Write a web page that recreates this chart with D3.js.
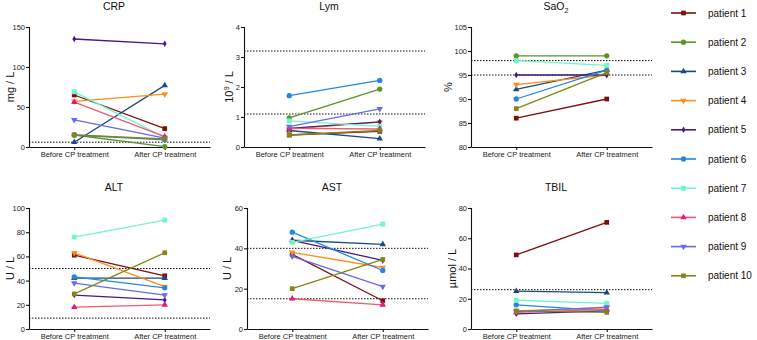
<!DOCTYPE html>
<html>
<head>
<meta charset="utf-8">
<script src="https://cdn.jsdelivr.net/npm/d3@7"></script>
<style>
  body { margin: 0; background: #fff; }
  svg { font-family: "Liberation Sans", Arial, sans-serif; }
  .tick text { fill: #222; }
</style>
</head>
<body>
<div id="chart"></div>
<script>
const patients = ['patient 1', 'patient 2', 'patient 3', 'patient 4', 'patient 5',
                  'patient 6', 'patient 7', 'patient 8', 'patient 9', 'patient 10'];
const phases = ['Before CP treatment', 'After CP treatment'];

// [before, after] per patient, null = not shown
const crp  = [[65, 23], [15, 0.5], [6, 77], [57, 66], [135, 129], [15, 9], [69, 12], [56, 13], [34, 11], [15, 10]];
const lym  = [[0.40, 0.52], [0.97, 1.93], [0.55, 0.28], [0.60, 0.83], [0.62, 0.84], [1.71, 2.22], [0.87, 0.69], [0.62, 0.60], [0.68, 1.27], [0.40, 0.55]];
const sao2 = [[86, 90], [99, 99], [92, 96], [93, 95], [95, 95], [90, 96], [98, 97], null, null, [88, 95.5]];
const alt  = [[61, 44], null, [42, 42], [63, 35], [28, 24], [43, 34], [76, 90], [18, 20], [38, 28], [29, 63]];
const ast  = [[37, 14], null, [44, 42], [38, 30.5], [44, 34], [48, 29], [43, 52], [15, 12], [36, 21], [20, 34.5]];
const tbil = [[49, 70.5], null, [25, 24], [12, 14], [10, 12], [16, 12], [19, 17], [11, 13], [11.5, 14.5], [12, 11]];

const crpRef = [6], lymRef = [1.1, 3.2], sao2Ref = [95, 98], altRef = [9, 50], astRef = [15, 40], tbilRef = [26];

const colors = ['#7c1010', '#5b9428', '#1d4a7c', '#ff8c1a', '#461a86',
                '#2387e2', '#72f5c8', '#f05a78', '#6a6ae6', '#858517'];
const markerColors = ['#7c1010', '#5b9428', '#1d4a7c', '#ff8c1a', '#461a86',
                '#2387e2', '#72f5c8', '#e8157e', '#6a6ae6', '#858517'];
const shapes = [d3.symbolSquare, d3.symbolCircle, d3.symbolTriangle, d3.symbolTriangle, d3.symbolDiamond,
                d3.symbolCircle, d3.symbolSquare, d3.symbolTriangle, d3.symbolTriangle, d3.symbolSquare];
const flip = [false, false, false, true, false, false, false, false, true, false];
const sizes = [22, 22, 18, 18, 12, 22, 24, 18, 18, 22];

const W = 757, H = 340;
const svg = d3.select('#chart').append('svg').attr('width', W).attr('height', H);

const panels = [
  {title: 'CRP', data: crp, refs: crpRef, domain: [0, 150], ticks: [0, 50, 100, 150], x0: 29, row: 0, label: 'mg / L', lx: 10},
  {title: 'Lym', data: lym, refs: lymRef, domain: [0, 4], ticks: [0, 1, 2, 3, 4], x0: 244, row: 0, label: 'lym', lx: 229},
  {title: 'SaO2', data: sao2, refs: sao2Ref, domain: [80, 105], ticks: [80, 85, 90, 95, 100, 105], x0: 471, row: 0, label: '%', lx: 448},
  {title: 'ALT', data: alt, refs: altRef, domain: [0, 100], ticks: [0, 20, 40, 60, 80, 100], x0: 29, row: 1, label: 'U / L', lx: 10},
  {title: 'AST', data: ast, refs: astRef, domain: [0, 60], ticks: [0, 20, 40, 60], x0: 247, row: 1, label: 'U / L', lx: 227},
  {title: 'TBIL', data: tbil, refs: tbilRef, domain: [0, 80], ticks: [0, 20, 40, 60, 80], x0: 471, row: 1, label: 'µmol / L', lx: 452}
];

const rows = [{top: 27, bottom: 147, titleY: 10, catY: 157}, {top: 208, bottom: 329, titleY: 191, catY: 337}];

function marker(i) {
  return d3.symbol().type(shapes[i]).size(sizes[i])();
}

panels.forEach(p => {
  const r = rows[p.row];
  const x = d3.scalePoint().domain(phases).range([p.x0, p.x0 + 181]).padding(0.5);
  const y = d3.scaleLinear().domain(p.domain).range([r.bottom, r.top]);
  const g = svg.append('g');

  // reference lines
  p.refs.forEach(v => {
    g.append('line')
      .attr('x1', p.x0).attr('x2', p.x0 + 181)
      .attr('y1', y(v)).attr('y2', y(v))
      .attr('stroke', '#111').attr('stroke-width', 1)
      .attr('stroke-dasharray', '1.5,1.5');
  });

  // axes
  const ya = g.append('g').attr('transform', 'translate(' + p.x0 + ',0)')
    .call(d3.axisLeft(y).tickValues(p.ticks).tickFormat(d3.format('d')).tickSize(3).tickSizeOuter(0));
  const xa = g.append('g').attr('transform', 'translate(0,' + r.bottom + ')')
    .call(d3.axisBottom(x).tickSize(3).tickSizeOuter(0));
  [ya, xa].forEach(a => {
    a.selectAll('path, line').attr('stroke', '#111').attr('stroke-width', 1.1);
    a.selectAll('text').attr('font-size', 7.5).attr('font-family', '"Liberation Sans", Arial, sans-serif');
  });
  ya.select('.domain').attr('d', 'M0.5,' + (r.bottom + 0.5) + 'V' + r.top);
  ya.selectAll('.tick text').attr('x', -4);
  xa.selectAll('.tick text').attr('y', 5);

  // title
  const t = g.append('text').attr('x', p.x0 + 85).attr('y', r.titleY)
    .attr('text-anchor', 'middle').attr('font-size', 10.5).attr('fill', '#111');
  if (p.title === 'SaO2') {
    t.append('tspan').text('SaO');
    t.append('tspan').text('2').attr('font-size', 7).attr('dy', 3);
  } else {
    t.text(p.title);
  }

  // y label
  const yl = g.append('text')
    .attr('transform', 'translate(' + p.lx + ',' + ((r.top + r.bottom) / 2) + ') rotate(-90)')
    .attr('text-anchor', 'middle').attr('dy', '0.35em').attr('font-size', 11).attr('fill', '#111');
  if (p.label === 'lym') {
    yl.append('tspan').text('10');
    yl.append('tspan').text('9').attr('font-size', 6.5).attr('dy', -4).attr('dx', 0.5);
    yl.append('tspan').text(' / L').attr('dy', 4);
  } else {
    yl.text(p.label);
  }

  // series
  p.data.forEach((d, i) => {
    if (!d) return;
    g.append('path')
      .attr('d', d3.line().x((v, k) => x(phases[k])).y(v => y(v))(d))
      .attr('fill', 'none').attr('stroke', colors[i]).attr('stroke-width', 1.3);
    d.forEach((v, k) => {
      g.append('path').attr('d', marker(i))
        .attr('transform', 'translate(' + x(phases[k]) + ',' + y(v) + ')' + (flip[i] ? ' rotate(180)' : ''))
        .attr('fill', markerColors[i]);
    });
  });
});

// legend
const lg = svg.append('g');
patients.forEach((name, i) => {
  const ly = 13 + i * 29.2;
  lg.append('line').attr('x1', 671).attr('x2', 696).attr('y1', ly).attr('y2', ly)
    .attr('stroke', colors[i]).attr('stroke-width', 1.6);
  lg.append('path').attr('d', marker(i))
    .attr('transform', 'translate(683.5,' + ly + ')' + (flip[i] ? ' rotate(180)' : ''))
    .attr('fill', markerColors[i]);
  lg.append('text').attr('x', 708).attr('y', ly).attr('dy', '0.35em')
    .attr('font-size', 10).attr('fill', '#111').text(name);
});
</script>
</body>
</html>
